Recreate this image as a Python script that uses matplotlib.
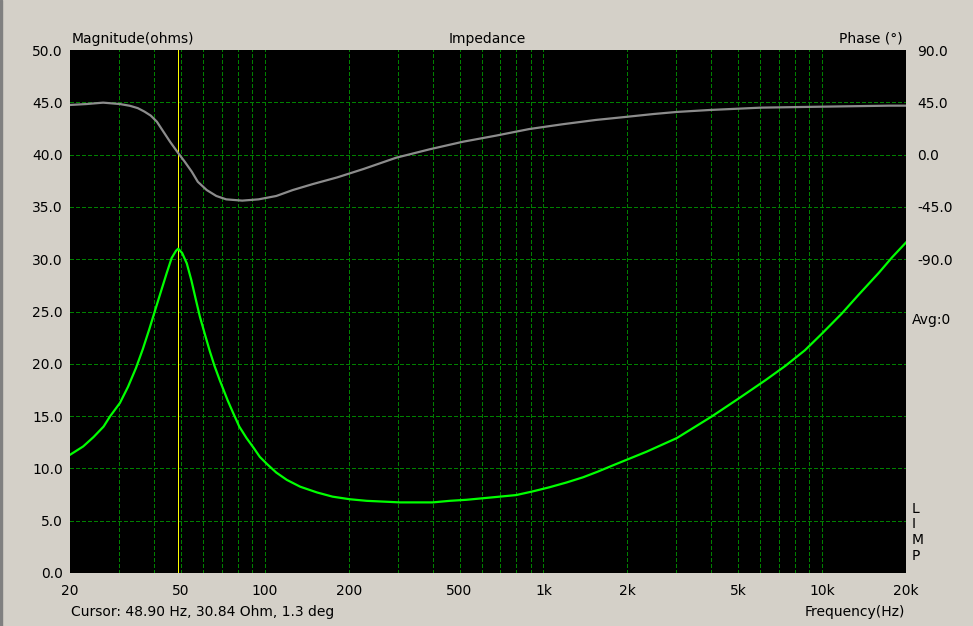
import matplotlib
matplotlib.use("Agg")
import matplotlib.pyplot as plt
from matplotlib.ticker import FixedLocator, NullFormatter
from matplotlib.patches import Rectangle

# impedance magnitude (ohms) vs frequency
mag_freq = [20, 22.3, 24.3, 26.4, 27.8, 30.2, 32.3, 34.5, 36.5, 38.5, 40.5, 42.5,
            44.5, 46.3, 48.0, 48.9, 50.5, 52.5, 54.5, 56.5, 58.5, 61.0, 63.5, 66.0,
            69.0, 73.6, 77.0, 81, 86, 91, 96, 102, 110, 120, 134,
            154, 175, 202, 232, 306, 401, 461, 530, 608, 697, 798, 915, 1052, 1209,
            1387, 1570, 1779, 2346, 3011, 4010, 5029, 6275, 7381, 8680, 10000, 11760,
            13520, 15980, 17860, 20000]
mag_ohms = [11.3, 12.1, 13.0, 14.0, 14.95, 16.25, 17.8, 19.6, 21.4, 23.3, 25.2, 27.0,
            28.7, 30.1, 30.8, 31.0, 30.6, 29.6, 28.0, 26.2, 24.5, 22.8, 21.2, 19.8,
            18.4, 16.5, 15.3, 14.0, 12.9, 12.0, 11.1, 10.4, 9.6, 8.9, 8.25,
            7.7, 7.3, 7.05, 6.9, 6.75, 6.75, 6.9, 7.0, 7.15, 7.3, 7.45, 7.8, 8.2, 8.65,
            9.15, 9.7, 10.3, 11.6, 12.9, 14.95, 16.7, 18.45, 19.8, 21.3, 22.9, 24.8,
            26.6, 28.7, 30.2, 31.6]

# phase (degrees) vs frequency
ph_freq = [20, 22.9, 26.3, 30.2, 32.8, 35.0, 37.0, 39.0, 41.0, 43.2, 45.7, 48.9, 51.6,
           54.7, 57.5, 61.9, 67.0, 72.7, 83.0, 95, 110, 126, 149, 182, 226, 296,
           391, 515, 675, 890, 1170, 1540, 1970, 2480, 3010, 3960, 6040, 9800,
           17400, 20000]
ph_deg = [42.7, 43.5, 44.7, 43.5, 42.0, 40.0, 37.0, 33.5, 28.3, 20.0, 11.1, 1.3, -6.1,
          -14.7, -23.4, -30.5, -35.6, -38.5, -39.6, -38.5, -35.6, -30.5, -25.3, -19.6,
          -12.4, -2.7, 4.6, 11.1, 16.3, 22.0, 26.1, 29.8, 32.4, 34.9, 36.7, 38.4,
          40.4, 41.2, 42.1, 42.1]

x_ticks = [20, 50, 100, 200, 500, 1000, 2000, 5000, 10000, 20000]
x_labels = ["20", "50", "100", "200", "500", "1k", "2k", "5k", "10k", "20k"]
x_minor = [30, 40, 60, 70, 80, 90, 300, 400, 600, 700, 800, 900,
           3000, 4000, 6000, 7000, 8000, 9000]
cursor_hz = 48.9

W, H = 973, 626
bg = "#d4d0c8"
grid_c = "#008000"
fs = 10

fig = plt.figure(figsize=(W / 100, H / 100), dpi=100, facecolor=bg)
fig.patches.append(Rectangle((0, 0), 2 / W, 1, transform=fig.transFigure,
                             color="#808080", zorder=0))

ax = fig.add_axes([70 / W, 53 / H, 836 / W, 523 / H], facecolor="black")
ax.set_xscale("log")
ax.set_xlim(20, 20000)
ax.set_ylim(0, 50)
ax.xaxis.set_major_locator(FixedLocator(x_ticks))
ax.set_xticklabels(x_labels)
ax.xaxis.set_minor_locator(FixedLocator(x_minor))
ax.xaxis.set_minor_formatter(NullFormatter())
y_ticks = [0, 5, 10, 15, 20, 25, 30, 35, 40, 45, 50]
ax.set_yticks(y_ticks)
ax.set_yticklabels(["%.1f" % v for v in y_ticks])
ax.tick_params(which="both", length=0, labelsize=fs, colors="black")
ax.tick_params(axis="x", pad=8)
ax.tick_params(axis="y", pad=5)
for s in ax.spines.values():
    s.set_visible(False)

# interior grid only (no lines on the frame edges)
grid_kw = dict(color=grid_c, linestyle=(0, (4, 3)), linewidth=0.7, zorder=1,
               antialiased=False)
for v in y_ticks[1:-1]:
    ax.axhline(v, **grid_kw)
for f in x_ticks[1:-1] + x_minor:
    ax.axvline(f, **grid_kw)

ax.axvline(cursor_hz, color="#ffff00", linewidth=0.7, zorder=3, antialiased=False)
ax.plot(mag_freq, mag_ohms, color="#00ff00", linewidth=1.6, zorder=4)

ax2 = ax.twinx()
ax2.set_ylim(-360, 90)
ph_ticks = [-90, -45, 0, 45, 90]
ax2.set_yticks(ph_ticks)
ax2.set_yticklabels(["%.1f" % v for v in ph_ticks])
ax2.tick_params(length=0, labelsize=fs, pad=8)
for s in ax2.spines.values():
    s.set_visible(False)
ax2.plot(ph_freq, ph_deg, color="#8c8c8c", linewidth=1.6, zorder=4)


def ftext(x, y, s, **kw):
    fig.text(x / W, 1 - y / H, s, fontsize=fs, **kw)


ftext(72, 39, "Magnitude(ohms)", ha="left", va="center")
ftext(487, 39, "Impedance", ha="center", va="center")
ftext(903, 39, "Phase (°)", ha="right", va="center")
ftext(912, 320, "Avg:0", ha="left", va="center")
for i, ch in enumerate("LIMP"):
    ftext(912, 509 + i * 15.5, ch, ha="left", va="center")
ftext(71, 612, "Cursor: 48.90 Hz, 30.84 Ohm, 1.3 deg", ha="left", va="center")
ftext(905, 612, "Frequency(Hz)", ha="right", va="center")

fig.savefig("out.png", dpi=100, facecolor=bg)
